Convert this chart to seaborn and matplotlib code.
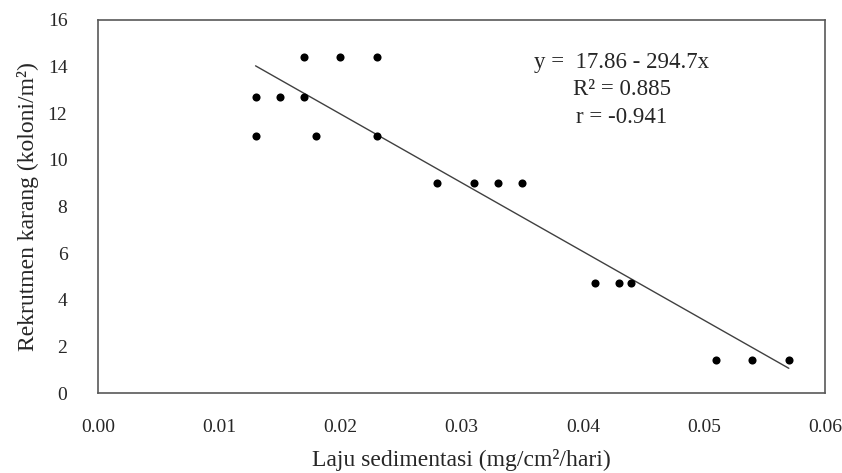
import numpy as np
import pandas as pd
import matplotlib
matplotlib.use("Agg")
import matplotlib.pyplot as plt
import seaborn as sns

# Data
sedimentasi = [0.013, 0.013, 0.015, 0.017, 0.017, 0.018, 0.020, 0.023, 0.023,
               0.028, 0.031, 0.033, 0.035, 0.041, 0.043, 0.044, 0.051, 0.054, 0.057]
rekrutmen = [12.7, 11.0, 12.7, 14.4, 12.7, 11.0, 14.4, 14.4, 11.0,
             9.0, 9.0, 9.0, 9.0, 4.7, 4.7, 4.7, 1.4, 1.4, 1.4]
intercept = 17.86
slope = -294.7
eq_lines = ["y =  17.86 - 294.7x", "R² = 0.885", "r = -0.941"]
x_ticks = [0.00, 0.01, 0.02, 0.03, 0.04, 0.05, 0.06]
y_ticks = [0, 2, 4, 6, 8, 10, 12, 14, 16]

sns.set_style("white")
plt.rcParams['font.family'] = ['Liberation Serif', 'DejaVu Serif']

df = pd.DataFrame({"x": sedimentasi, "y": rekrutmen})

fig = plt.figure(figsize=(8.42, 4.73), dpi=100)
ax = fig.add_axes([0.1164, 0.169, 0.8636, 0.789])

xl = np.array([min(sedimentasi), max(sedimentasi)])
ax.plot(xl, intercept + slope * xl, color="#404040", lw=1.0, zorder=2)

sns.scatterplot(data=df, x="x", y="y", ax=ax, color="black", s=34,
                edgecolor="black", linewidth=0, zorder=3)

ax.set_xlim(0, 0.06)
ax.set_ylim(0, 16)
ax.set_xticks(x_ticks)
ax.set_xticklabels([f"{v:.2f}" for v in x_ticks])
ax.set_yticks(y_ticks)
ax.set_yticklabels([str(v) for v in y_ticks])

ax.tick_params(direction="in", length=6, width=1, color="#595959",
               labelsize=14)
ax.tick_params(axis="x", pad=19)
ax.tick_params(axis="y", pad=22)
for sp in ax.spines.values():
    sp.set_visible(True)
    sp.set_color("#595959")
    sp.set_linewidth(1.2)

ax.set_xlabel("Laju sedimentasi (mg/cm²/hari)", fontsize=17, labelpad=9)
ax.set_ylabel("Rekrutmen karang (koloni/m²)", fontsize=17, labelpad=6)

ax.text(0.0432, 14.62, "\n".join(eq_lines), ha="center", va="top",
        fontsize=16.5, linespacing=1.4)

fig.savefig("out.png", dpi=100)
